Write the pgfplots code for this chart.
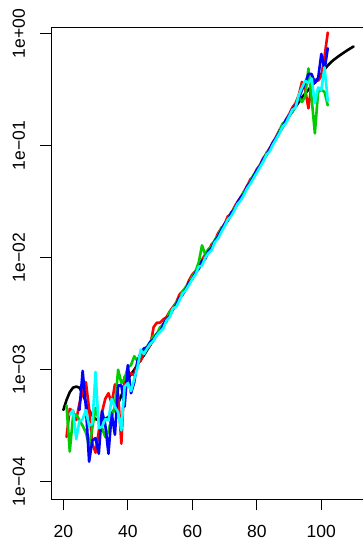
\documentclass[border=0pt]{standalone}
\usepackage{fontspec}
\setmainfont{Liberation Sans}
\usepackage{pgfplots}
\usepackage{pgfplotstable}
\pgfplotsset{compat=1.18}
\definecolor{Rred}{HTML}{FF0000}
\definecolor{Rgreen}{HTML}{00CD00}
\definecolor{Rblue}{HTML}{0000FF}
\definecolor{Rcyan}{HTML}{00FFFF}

\pgfplotstableread{
age rate
20 4.37e-4
21 5.37e-4
22 6.31e-4
23 6.92e-4
24 7.08e-4
25 6.92e-4
26 6.17e-4
27 5.13e-4
28 4.37e-4
29 3.89e-4
30 3.63e-4
31 3.55e-4
32 3.55e-4
33 3.63e-4
34 3.80e-4
35 4.07e-4
36 4.47e-4
37 5.01e-4
38 5.89e-4
39 6.92e-4
40 8.32e-4
41 9.12e-4
42 1.00e-3
43 1.109e-3
44 1.23e-3
45 1.35e-3
46 1.50e-3
47 1.67e-3
48 1.85e-3
49 2.06e-3
50 2.29e-3
51 2.55e-3
52 2.83e-3
53 3.15e-3
54 3.50e-3
55 3.89e-3
56 4.33e-3
57 4.81e-3
58 5.35e-3
59 5.94e-3
60 6.61e-3
61 7.33e-3
62 8.13e-3
63 9.02e-3
64 1.00e-2
65 1.12e-2
66 1.25e-2
67 1.40e-2
68 1.56e-2
69 1.75e-2
70 1.95e-2
71 2.18e-2
72 2.44e-2
73 2.73e-2
74 3.05e-2
75 3.40e-2
76 3.81e-2
77 4.26e-2
78 4.76e-2
79 5.32e-2
80 5.96e-2
81 6.65e-2
82 7.45e-2
83 8.32e-2
84 9.33e-2
85 0.1047
86 0.1169
87 0.1309
88 0.1466
89 0.1641
90 0.1832
91 0.2023
92 0.2228
93 0.2449
94 0.2685
95 0.2931
96 0.3162
97 0.3420
98 0.3698
99 0.4018
100 0.4385
101 0.4808
102 0.5212
103 0.5572
104 0.5888
105 0.6194
106 0.6486
107 0.6792
108 0.7096
109 0.7396
110 0.7691
}\fitted

\pgfplotstableread{
age rate
21 2.51e-4
22 4.47e-4
23 4.27e-4
24 3.55e-4
25 5.01e-4
26 6.31e-4
27 7.76e-4
28 4.47e-4
29 2.19e-4
30 1.82e-4
31 2.82e-4
32 4.17e-4
33 5.50e-4
34 6.17e-4
35 5.01e-4
36 7.41e-4
37 6.03e-4
38 2.19e-4
39 8.71e-4
40 8.91e-4
41 9.33e-4
42 8.91e-4
43 1.17e-3
44 1.20e-3
45 1.45e-3
46 1.58e-3
47 1.66e-3
48 2.40e-3
49 2.63e-3
50 2.63e-3
51 2.82e-3
52 2.95e-3
53 3.31e-3
54 3.63e-3
55 3.98e-3
56 4.68e-3
57 5.01e-3
58 5.37e-3
59 6.31e-3
60 7.08e-3
61 7.59e-3
62 8.32e-3
63 9.55e-3
64 1.07e-2
65 1.15e-2
66 1.32e-2
67 1.41e-2
68 1.66e-2
69 1.82e-2
70 2.00e-2
71 2.34e-2
72 2.45e-2
73 2.82e-2
74 3.16e-2
75 3.47e-2
76 3.89e-2
77 4.37e-2
78 5.01e-2
79 5.37e-2
80 6.17e-2
81 6.76e-2
82 7.76e-2
83 8.51e-2
84 9.55e-2
85 0.1072
86 0.1202
87 0.1380
88 0.1514
89 0.1698
90 0.1905
91 0.2188
92 0.2399
93 0.2818
94 0.3715
95 0.3162
96 0.2158
97 0.3548
98 0.3890
99 0.3802
100 0.4169
101 0.6310
102 1.023
}\seriesA

\pgfplotstableread{
age rate
21 4.79e-4
22 1.86e-4
23 3.80e-4
24 3.98e-4
25 3.55e-4
26 3.16e-4
27 2.75e-4
28 2.09e-4
29 3.02e-4
30 4.57e-4
31 3.55e-4
32 3.02e-4
33 2.51e-4
34 2.82e-4
35 3.80e-4
36 4.68e-4
37 1.00e-3
38 7.59e-4
39 8.32e-4
40 1.05e-3
41 1.10e-3
42 1.32e-3
43 1.20e-3
44 1.38e-3
45 1.51e-3
46 1.62e-3
47 1.78e-3
48 2.00e-3
49 2.09e-3
50 2.40e-3
51 2.51e-3
52 2.69e-3
53 3.31e-3
54 3.47e-3
55 3.98e-3
56 4.27e-3
57 5.01e-3
58 5.50e-3
59 5.89e-3
60 6.76e-3
61 7.59e-3
62 9.12e-3
63 1.29e-2
64 1.07e-2
65 1.20e-2
66 1.26e-2
67 1.45e-2
68 1.58e-2
69 1.86e-2
70 1.91e-2
71 2.19e-2
72 2.51e-2
73 2.75e-2
74 3.02e-2
75 3.39e-2
76 3.89e-2
77 4.17e-2
78 4.79e-2
79 5.50e-2
80 5.89e-2
81 6.76e-2
82 7.24e-2
83 8.71e-2
84 9.12e-2
85 0.1047
86 0.1148
87 0.1349
88 0.1585
89 0.1622
90 0.1905
91 0.1995
92 0.2291
93 0.2754
94 0.2455
95 0.2754
96 0.4898
97 0.2630
98 0.1288
99 0.3020
100 0.3162
101 0.3020
102 0.2291
}\seriesB

\pgfplotstableread{
age rate
25 4.37e-4
26 9.77e-4
27 4.68e-4
28 1.51e-4
29 2.34e-4
30 2.45e-4
31 1.78e-4
32 4.27e-4
33 3.24e-4
34 1.78e-4
35 4.07e-4
36 2.63e-4
37 7.24e-4
38 7.24e-4
39 4.68e-4
40 1.10e-3
41 6.17e-4
42 7.76e-4
43 1.20e-3
44 1.41e-3
45 1.55e-3
46 1.58e-3
47 1.78e-3
48 1.86e-3
49 2.09e-3
50 2.19e-3
51 2.51e-3
52 2.82e-3
53 3.02e-3
54 3.47e-3
55 3.80e-3
56 4.37e-3
57 4.68e-3
58 5.25e-3
59 6.03e-3
60 6.46e-3
61 7.41e-3
62 7.94e-3
63 9.33e-3
64 9.77e-3
65 1.15e-2
66 1.23e-2
67 1.41e-2
68 1.55e-2
69 1.78e-2
70 2.00e-2
71 2.14e-2
72 2.51e-2
73 2.69e-2
74 3.09e-2
75 3.47e-2
76 3.72e-2
77 4.37e-2
78 4.68e-2
79 5.37e-2
80 6.03e-2
81 6.61e-2
82 7.59e-2
83 8.32e-2
84 9.33e-2
85 0.1072
86 0.1175
87 0.1318
88 0.1479
89 0.1698
90 0.1862
91 0.2089
92 0.2291
93 0.2630
94 0.3162
95 0.3631
96 0.4365
97 0.4365
98 0.3631
99 0.3981
100 0.6607
101 0.4786
102 0.7413
}\seriesC

\pgfplotstableread{
age rate
22 3.98e-4
23 4.37e-4
24 2.40e-4
25 3.47e-4
26 3.63e-4
27 4.37e-4
28 3.16e-4
29 3.31e-4
30 9.55e-4
31 3.02e-4
32 3.09e-4
33 3.63e-4
34 3.55e-4
35 5.50e-4
36 4.68e-4
37 4.17e-4
38 2.88e-4
39 7.08e-4
40 7.59e-4
41 6.46e-4
42 8.32e-4
43 1.05e-3
44 1.51e-3
45 1.38e-3
46 1.55e-3
47 1.70e-3
48 1.82e-3
49 2.04e-3
50 2.19e-3
51 2.34e-3
52 2.75e-3
53 2.95e-3
54 3.55e-3
55 3.63e-3
56 4.17e-3
57 4.79e-3
58 5.13e-3
59 5.75e-3
60 6.46e-3
61 7.08e-3
62 8.32e-3
63 8.51e-3
64 1.00e-2
65 1.10e-2
66 1.17e-2
67 1.38e-2
68 1.48e-2
69 1.70e-2
70 1.91e-2
71 2.19e-2
72 2.34e-2
73 2.63e-2
74 3.02e-2
75 3.24e-2
76 3.63e-2
77 4.17e-2
78 4.57e-2
79 5.13e-2
80 5.75e-2
81 6.46e-2
82 7.24e-2
83 8.32e-2
84 8.91e-2
85 0.1023
86 0.1148
87 0.1288
88 0.1479
89 0.1585
90 0.1820
91 0.2089
92 0.2188
93 0.2818
94 0.3311
95 0.3802
96 0.3631
97 0.3981
98 0.2399
99 0.3311
100 0.3162
101 0.5012
102 0.2512
}\seriesD

\begin{document}
\fontsize{17.5}{20}\selectfont
\begin{tikzpicture}
\begin{axis}[
  at={(0pt,0pt)}, anchor=south west,
  scale only axis, width=313.5pt, height=472pt,
  xmin=16.4, xmax=113.6,
  ymode=log, ymin=7.015e-5, ymax=1.148,
  axis line style={line width=0.9pt},
  xtick={20,40,60,80,100},
  ytick={1e-4,1e-3,1e-2,1e-1,1},
  yticklabels={1e−04,1e−03,1e−02,1e−01,1e+00},
  yminorticks=false, xminorticks=false,
  tick align=outside, major tick length=11.5pt,
  xtick pos=bottom, ytick pos=left,
  tick style={black, line width=0.9pt},
  /pgf/number format/assume math mode=true,
  xticklabel shift=27.3pt,
  yticklabel shift=15.2pt,
  xticklabel style={anchor=base, inner sep=0pt, font=\fontsize{17.5}{20}\selectfont},
  yticklabel style={rotate=90, anchor=base, inner sep=0pt, font=\fontsize{17.5}{20}\selectfont},
  every axis plot/.append style={line width=2.6pt, line join=round, line cap=round},
]
\addplot[black] table[x=age,y=rate] {\fitted};
\addplot[Rred] table[x=age,y=rate] {\seriesA};
\addplot[Rgreen] table[x=age,y=rate] {\seriesB};
\addplot[Rblue] table[x=age,y=rate] {\seriesC};
\addplot[Rcyan] table[x=age,y=rate] {\seriesD};
\end{axis}
\pgfresetboundingbox
\path[use as bounding box] (-51.7pt,-42pt) rectangle (311.3pt,499pt);
\end{tikzpicture}
\end{document}
